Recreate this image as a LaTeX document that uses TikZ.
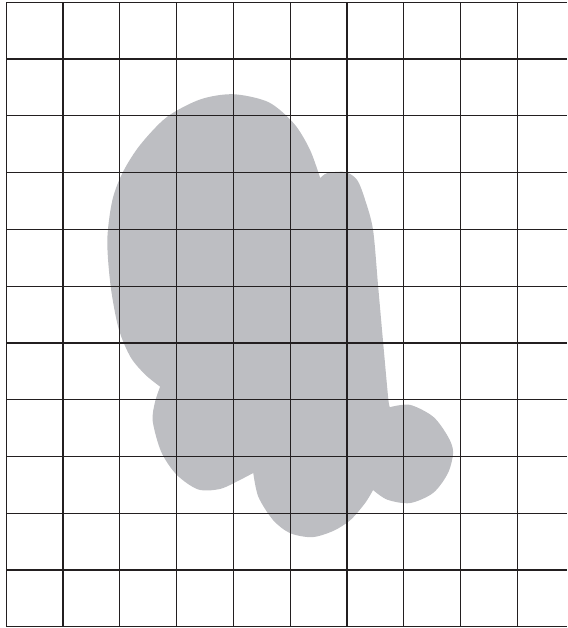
\documentclass[tikz,border=0pt]{standalone}
\usepackage{tikz}
\definecolor{blobgray}{RGB}{189,190,194}
\definecolor{gridblack}{RGB}{35,31,32}
\tikzset{gridline/.style={draw=gridblack,line width=0.6pt},
	blob/.style={fill=blobgray,draw=none}}

\begin{document}
\begin{tikzpicture}
	\useasboundingbox (-0.11,-0.02) rectangle (9.88,11.04);
	% the grey shape, lobe by lobe
	\fill[blob] plot[smooth] coordinates {(2.71,4.23) (2.45,4.44) (2.19,4.75) (1.98,5.25) (1.84,5.99) (1.78,6.81) (1.87,7.52) (2.06,8.02) (2.36,8.49) (2.83,8.98) (3.42,9.29) (4.00,9.38) (4.62,9.24) (5.07,8.86) (5.35,8.40) (5.53,7.90)}
		-- plot[smooth] coordinates {(5.53,7.90) (5.65,7.99) (5.97,8.01) (6.18,7.87) (6.32,7.52) (6.46,6.99) (6.55,5.99) (6.64,4.98) (6.73,4.00) (6.76,3.87)}
		-- plot[smooth] coordinates {(6.76,3.87) (7.11,3.91) (7.52,3.70) (7.78,3.35) (7.87,3.08) (7.78,2.71) (7.52,2.36) (7.11,2.18) (6.71,2.24) (6.46,2.41)}
		-- plot[smooth] coordinates {(6.46,2.41) (6.32,2.18) (6.06,1.88) (5.76,1.69) (5.39,1.58) (5.00,1.65) (4.70,1.88) (4.44,2.29) (4.35,2.71)}
		-- plot[smooth] coordinates {(4.35,2.71) (4.12,2.59) (3.77,2.43) (3.38,2.42) (3.00,2.68) (2.73,3.08) (2.58,3.62) (2.62,3.96) (2.71,4.23)}
		-- cycle;
	% grid
	\foreach \x in {0,...,9}
		\draw[gridline] (\x,0) -- (\x,11);
	\foreach \y in {0,...,11}
		\draw[gridline] (0,\y) -- (9.88,\y);
\end{tikzpicture}
\end{document}
